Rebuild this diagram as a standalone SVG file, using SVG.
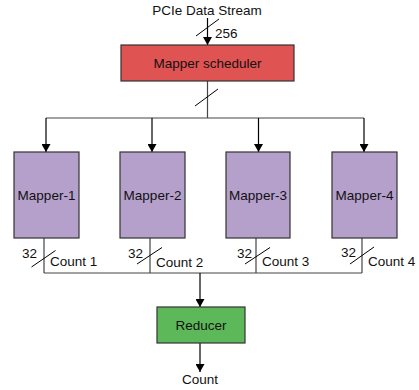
<svg xmlns="http://www.w3.org/2000/svg" width="419" height="390" viewBox="0 0 419 390">
<defs>
<marker id="ah" markerWidth="8" markerHeight="9" refX="8" refY="4.5" orient="auto" markerUnits="userSpaceOnUse">
<path d="M0,0 L8,4.5 L0,9 Z" fill="#000"/>
</marker>
<style>
text{font-family:"Liberation Sans",Arial,sans-serif;font-size:13.5px;fill:#111}
.box{stroke:#333;stroke-width:1.2}
.map{fill:#b5a0cb}
.ln{stroke:#444;stroke-width:1.2;fill:none}
.ar{stroke:#000;stroke-width:1.2;fill:none;marker-end:url(#ah)}
.sl{stroke:#000;stroke-width:1;fill:none}
</style>
</defs>
<rect width="419" height="390" fill="#fff"/>
<text x="207" y="15" text-anchor="middle">PCIe Data Stream</text>
<text x="215" y="38">256</text>
<g id="connectors">
<line class="ar" x1="207.5" y1="18" x2="207.5" y2="45"/>
<line class="sl" x1="196" y1="36" x2="219" y2="19"/>
<line class="ln" x1="207.5" y1="81" x2="207.5" y2="118"/>
<line class="sl" x1="195" y1="106" x2="218" y2="89"/>
<line class="ln" x1="46" y1="118" x2="364" y2="118"/>
<line class="ar" x1="46" y1="118" x2="46" y2="152"/>
<line class="ar" x1="152" y1="118" x2="152" y2="152"/>
<line class="ar" x1="258.5" y1="118" x2="258.5" y2="152"/>
<line class="ar" x1="364" y1="118" x2="364" y2="152"/>
<line class="ln" x1="44" y1="238" x2="44" y2="273"/>
<line class="ln" x1="150" y1="238" x2="150" y2="273"/>
<line class="ln" x1="256" y1="238" x2="256" y2="273"/>
<line class="ln" x1="362" y1="238" x2="362" y2="273"/>
<line class="ln" x1="44" y1="273" x2="362" y2="273"/>
<line class="sl" x1="31.5" y1="267" x2="55.5" y2="250.5"/>
<line class="sl" x1="137" y1="264" x2="162" y2="247.5"/>
<line class="sl" x1="245" y1="264" x2="270" y2="247.5"/>
<line class="sl" x1="350" y1="264" x2="374" y2="247"/>
<line class="ar" x1="200" y1="273" x2="200" y2="307"/>
<line class="ar" x1="200" y1="343" x2="200" y2="372"/>
</g>
<text x="22" y="258">32</text>
<text x="50" y="266">Count 1</text>
<text x="128" y="258">32</text>
<text x="156" y="267">Count 2</text>
<text x="237" y="258">32</text>
<text x="262" y="266">Count 3</text>
<text x="341" y="257">32</text>
<text x="368" y="266">Count 4</text>
<g id="scheduler">
<rect class="box" x="121" y="45" width="173" height="36" fill="#e05353"/>
<text x="207.5" y="68" text-anchor="middle">Mapper scheduler</text>
</g>
<g id="mapper1">
<rect class="box map" x="14" y="152" width="65" height="86"/>
<text x="46.5" y="200" text-anchor="middle">Mapper-1</text>
</g>
<g id="mapper2">
<rect class="box map" x="120" y="152" width="65" height="86"/>
<text x="152.5" y="200" text-anchor="middle">Mapper-2</text>
</g>
<g id="mapper3">
<rect class="box map" x="226" y="152" width="64" height="86"/>
<text x="258" y="200" text-anchor="middle">Mapper-3</text>
</g>
<g id="mapper4">
<rect class="box map" x="332" y="152" width="65" height="86"/>
<text x="364.5" y="200" text-anchor="middle">Mapper-4</text>
</g>
<g id="reducer">
<rect class="box" x="157" y="307" width="88" height="36" fill="#5db85a"/>
<text x="201" y="330" text-anchor="middle">Reducer</text>
</g>
<text x="200" y="384" text-anchor="middle">Count</text>
</svg>
